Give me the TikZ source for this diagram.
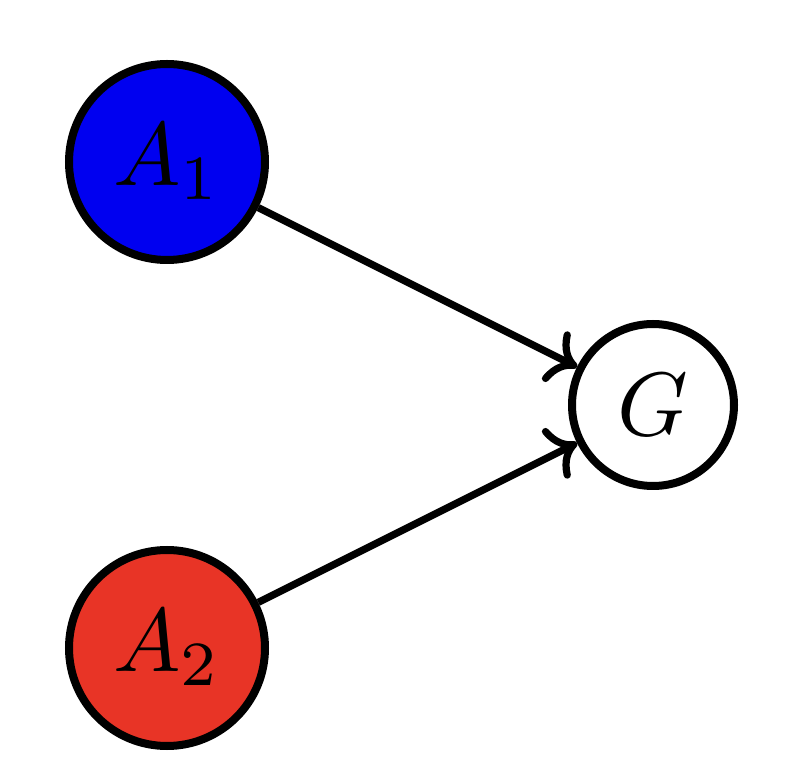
\documentclass[tikz,border=0pt]{standalone}
\usetikzlibrary{arrows.meta}
\definecolor{nodeblue}{RGB}{0,0,240}
\definecolor{nodered}{RGB}{232,52,38}
\newcommand{\biglabel}[1]{\scalebox{4.5}{$#1$}}
\tikzset{
  vert/.style={circle, draw=black, line width=4pt, inner sep=0pt},
  big/.style={vert, minimum size=98pt},
  small/.style={vert, minimum size=81pt},
  edge/.style={line width=3.6pt, -{To[scale=1.4]}}
}
\begin{document}
\begin{tikzpicture}[x=1pt,y=1pt]
\useasboundingbox (0,0) rectangle (394,386);
\node[big, fill=nodeblue] (A1) at (83.5,305) {\biglabel{A_1}};
\node[big, fill=nodered] (A2) at (83.5,62) {\biglabel{A_2}};
\node[small, fill=white] (G) at (326.5,183.5) {\biglabel{G}};
\draw[edge] (A1) -- (G);
\draw[edge] (A2) -- (G);
\end{tikzpicture}
\end{document}
